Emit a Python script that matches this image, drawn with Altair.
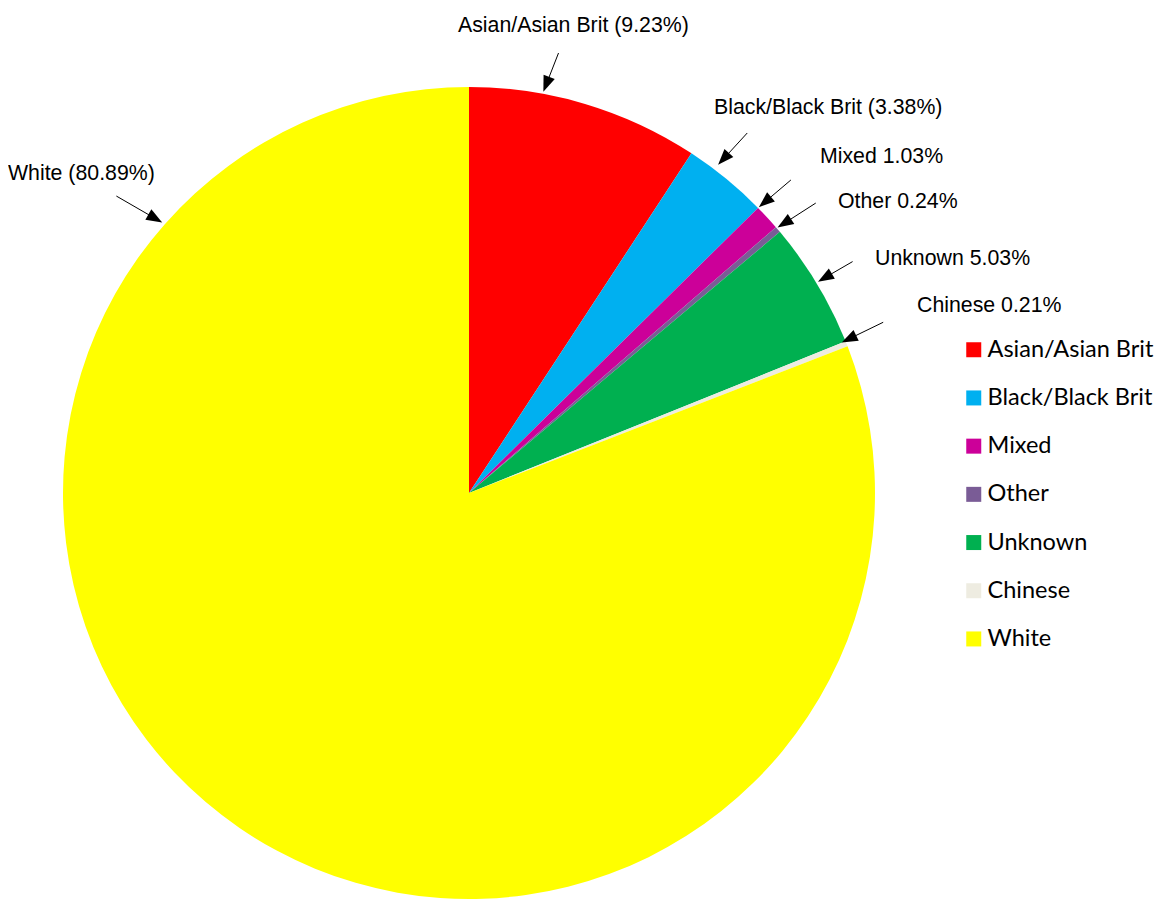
import math
import altair as alt
import pandas as pd

# ---- data ----
categories = ["Asian/Asian Brit", "Black/Black Brit", "Mixed", "Other", "Unknown", "Chinese", "White"]
percentages = [9.23, 3.38, 1.03, 0.24, 5.03, 0.21, 80.89]
colors = ["#FF0000", "#00B0F0", "#CC0099", "#7A5C96", "#00B050", "#EEECE1", "#FFFF00"]
label_texts = ["Asian/Asian Brit (9.23%)", "Black/Black Brit (3.38%)", "Mixed 1.03%",
               "Other 0.24%", "Unknown 5.03%", "Chinese 0.21%", "White (80.89%)"]

# ---- layout (annotation placement) ----
CX, CY, R = 461, 485, 406
tip_angle = [10.5, 37.2, 45.4, 49.3, 58.8, 68.0, 311.4]
tip_r = [408, 412, 407, 407, 408, 402, 409]
tail_angle = [11.5, 37.7, 45.8, 50.1, 58.9, 67.6, 310.1]
tail_r = [449, 455, 449, 452, 448, 448, 461]
label_x = [450, 706, 812, 830, 867, 909, 0]
label_y = [18, 100, 149, 194, 251, 298, 166]

pie_df = pd.DataFrame({"category": categories, "pct": percentages,
                       "order": list(range(len(categories)))})

HEAD_SIZE = 256
hr = math.sqrt(HEAD_SIZE) / 2

def polar(a, r):
    t = math.radians(a)
    return CX + r * math.sin(t), CY - r * math.cos(t)

rows = []
for i in range(len(categories)):
    tx, ty = polar(tip_angle[i], tip_r[i])
    sx, sy = polar(tail_angle[i], tail_r[i])
    dx, dy = tx - sx, ty - sy
    L = math.hypot(dx, dy)
    ux, uy = dx / L, dy / L
    hx, hy = tx - ux * hr, ty - uy * hr
    ang = (math.degrees(math.atan2(dx, -dy)) + 360) % 360
    rows.append({"sx": sx, "sy": sy, "ex": hx, "ey": hy, "hx": hx, "hy": hy,
                 "ang": ang, "lx": label_x[i], "ly": label_y[i], "text": label_texts[i]})
ann = pd.DataFrame(rows)

pie = alt.Chart(pie_df).mark_arc(outerRadius=R, stroke=None).encode(
    theta=alt.Theta("pct:Q", stack=True),
    order=alt.Order("order:Q"),
    color=alt.Color("category:N",
                    scale=alt.Scale(domain=categories, range=colors),
                    sort=categories,
                    legend=alt.Legend(orient="none", legendX=954, legendY=330, title=None,
                                      symbolType="square", symbolSize=225,
                                      labelFont="Lato", labelFontSize=23.5, labelColor="#000000",
                                      labelLimit=0,
                                      rowPadding=23.2, labelOffset=2, padding=0,
                                      symbolStrokeWidth=0)),
    x=alt.value(CX),
    y=alt.value(CY),
)

lines = alt.Chart(ann).mark_rule(color="black", strokeWidth=1).encode(
    x=alt.X("sx:Q", scale=None), y=alt.Y("sy:Q", scale=None),
    x2="ex:Q", y2="ey:Q",
)

heads = alt.Chart(ann).mark_point(shape="M-0.75,1L0.75,1L0,-1Z", filled=True, color="black",
                                  size=HEAD_SIZE, opacity=1, strokeWidth=0).encode(
    x=alt.X("hx:Q", scale=None), y=alt.Y("hy:Q", scale=None),
    angle=alt.Angle("ang:Q", scale=None),
)

labels = alt.Chart(ann).mark_text(align="left", baseline="middle", font="Liberation Sans",
                                  fontSize=21.3, color="black").encode(
    x=alt.X("lx:Q", scale=None), y=alt.Y("ly:Q", scale=None),
    text="text:N",
)

chart = alt.layer(pie, lines, heads, labels).properties(
    width=1152, height=894, autosize=alt.AutoSizeParams(type="none"), padding=0,
    background="white"
).configure_view(stroke=None)

chart.save("out.html", embed_options={"renderer": "svg", "actions": False})
